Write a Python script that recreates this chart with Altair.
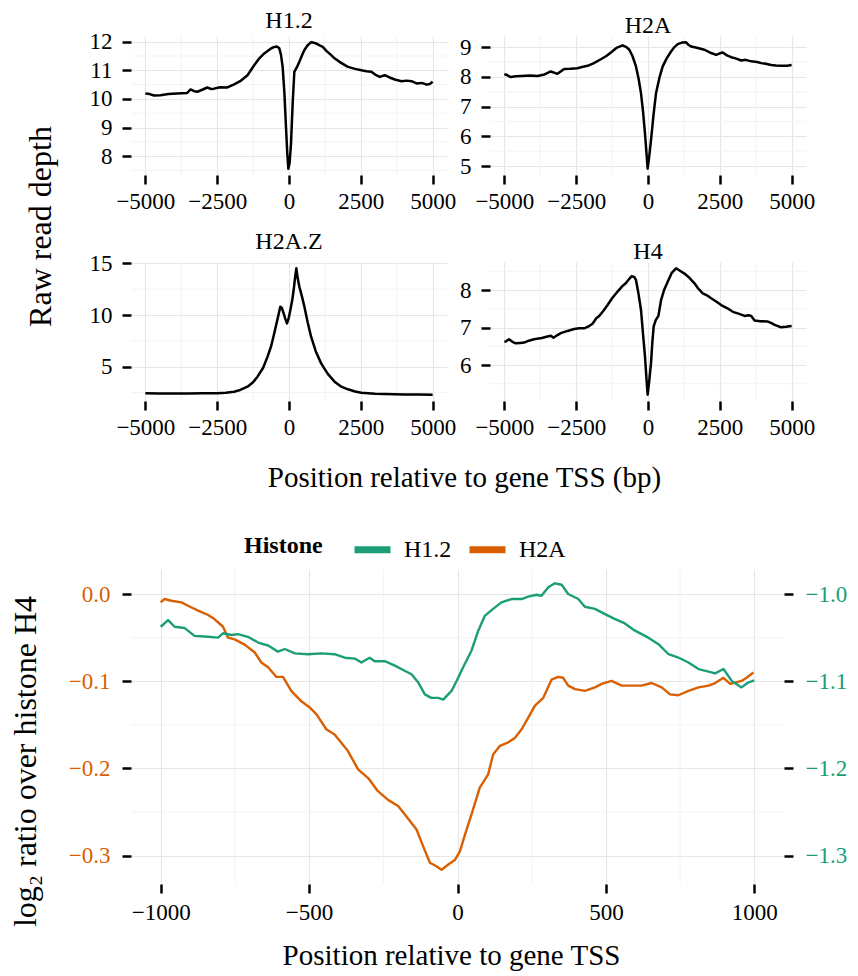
import altair as alt
import pandas as pd

FONT = "Liberation Serif"
GREEN = "#1B9E77"
ORANGE = "#D95F02"
MAJOR_GRID = "#E6E6E6"
MINOR_GRID = "#F3F3F3"

# ---------------- top panels: raw read depth ----------------
panel_names = ["H1.2", "H2A", "H2A.Z", "H4"]

h12_pos = [-5000, -4850, -4700, -4476, -4200, -3900, -3543, -3426, -3300, -3193, -3000, -2844, -2720, -2611,
           -2400, -2145, -1911, -1700, -1445, -1212, -1050, -862, -650, -513, -420, -338, -280, -221, -160,
           -105, -60, -23, 20, 70, 130, 186, 270, 361, 450, 536, 650, 769, 850, 944, 1050, 1177, 1300, 1450,
           1585, 1800, 2051, 2300, 2518, 2700, 2867, 3000, 3159, 3333, 3500, 3683, 3916, 4100, 4266, 4441,
           4616, 4790, 4900, 5000]
h12_val = [10.19, 10.17, 10.12, 10.13, 10.17, 10.19, 10.21, 10.33, 10.27, 10.25, 10.33, 10.40, 10.35, 10.36,
           10.41, 10.40, 10.51, 10.62, 10.83, 11.18, 11.40, 11.59, 11.75, 11.82, 11.83, 11.77, 11.55, 11.12,
           10.20, 9.02, 8.10, 7.56, 7.75, 8.43, 9.90, 10.95, 11.10, 11.30, 11.52, 11.71, 11.88, 11.98, 11.97,
           11.94, 11.88, 11.82, 11.68, 11.55, 11.42, 11.27, 11.12, 11.05, 11.00, 10.97, 10.95, 10.85, 10.77,
           10.83, 10.75, 10.68, 10.62, 10.64, 10.62, 10.54, 10.56, 10.50, 10.52, 10.60]

h2a_pos = [-5000, -4950, -4780, -4600, -4430, -4100, -3850, -3600, -3385, -3150, -2920, -2700, -2455, -2300,
           -2105, -1900, -1640, -1450, -1290, -1100, -884, -750, -651, -540, -419, -330, -244, -170, -105,
           -50, -12, 40, 105, 190, 279, 400, 512, 650, 802, 920, 1035, 1180, 1326, 1400, 1500, 1700, 1965,
           2198, 2373, 2500, 2605, 2750, 2896, 3050, 3245, 3400, 3594, 3800, 3943, 4100, 4292, 4450, 4640,
           4850, 5000]
h2a_val = [8.06, 8.08, 7.99, 8.02, 8.03, 8.04, 8.03, 8.08, 8.18, 8.10, 8.26, 8.27, 8.29, 8.33, 8.37, 8.45,
           8.59, 8.70, 8.82, 8.97, 9.06, 9.00, 8.91, 8.70, 8.35, 7.95, 7.45, 6.80, 6.09, 5.40, 4.91, 5.30,
           5.87, 6.70, 7.45, 7.98, 8.35, 8.62, 8.85, 9.00, 9.10, 9.15, 9.16, 9.08, 9.02, 8.98, 8.91, 8.80,
           8.74, 8.79, 8.82, 8.72, 8.66, 8.62, 8.55, 8.57, 8.52, 8.50, 8.46, 8.44, 8.40, 8.38, 8.37, 8.37, 8.40]

h2az_pos = [-5000, -4500, -4000, -3500, -3000, -2500, -2200, -1911, -1700, -1445, -1250, -1096, -900, -746,
            -620, -513, -400, -303, -250, -186, -120, -70, -10, 47, 110, 163, 210, 256, 300, 361, 450, 536,
            650, 769, 930, 1119, 1350, 1585, 1800, 2051, 2300, 2518, 3000, 3333, 4000, 4500, 5000]
h2az_val = [2.42, 2.40, 2.40, 2.41, 2.42, 2.43, 2.48, 2.58, 2.75, 3.06, 3.50, 4.03, 4.90, 5.97, 7.00, 8.23,
            9.60, 10.81, 10.70, 10.16, 9.55, 9.19, 9.70, 10.48, 11.40, 12.42, 13.60, 14.52, 13.60, 12.74,
            11.80, 10.81, 9.30, 7.90, 6.50, 5.32, 4.30, 3.55, 3.10, 2.81, 2.60, 2.48, 2.38, 2.35, 2.31, 2.30,
            2.29]

h4_pos = [-5000, -4950, -4840, -4720, -4600, -4450, -4310, -4150, -3965, -3700, -3500, -3380, -3290, -3150,
          -3035, -2800, -2570, -2400, -2220, -2050, -1930, -1800, -1700, -1550, -1407, -1250, -1058, -900,
          -767, -650, -570, -480, -419, -330, -244, -170, -105, -50, -12, 40, 105, 150, 198, 270, 361, 454,
          560, 686, 820, 977, 1100, 1268, 1450, 1617, 1760, 1907, 2050, 2198, 2400, 2547, 2750, 2954, 3150,
          3361, 3500, 3594, 3710, 3900, 4175, 4300, 4408, 4550, 4640, 4800, 5000]
h4_val = [6.62, 6.63, 6.69, 6.62, 6.58, 6.59, 6.60, 6.65, 6.69, 6.72, 6.76, 6.78, 6.73, 6.80, 6.85, 6.91,
          6.96, 6.98, 6.98, 7.04, 7.10, 7.25, 7.31, 7.45, 7.60, 7.78, 7.96, 8.10, 8.19, 8.30, 8.37, 8.35,
          8.27, 7.90, 7.47, 6.80, 6.23, 5.60, 5.21, 5.55, 6.05, 6.60, 7.03, 7.20, 7.31, 7.73, 8.00, 8.22,
          8.45, 8.58, 8.52, 8.44, 8.32, 8.18, 8.03, 7.91, 7.86, 7.78, 7.68, 7.60, 7.52, 7.42, 7.37, 7.31,
          7.33, 7.31, 7.19, 7.17, 7.16, 7.12, 7.07, 7.03, 7.01, 7.02, 7.04]

top_x_ticks = [-5000, -2500, 0, 2500, 5000]
top_x_minor = [-3750, -1250, 1250, 3750]
h12_yticks = [8, 9, 10, 11, 12]
h12_yminor = [7.5, 8.5, 9.5, 10.5, 11.5]
h2a_yticks = [5, 6, 7, 8, 9]
h2a_yminor = [5.5, 6.5, 7.5, 8.5]
h2az_yticks = [5, 10, 15]
h2az_yminor = [2.5, 7.5, 12.5]
h4_yticks = [6, 7, 8]
h4_yminor = [5.5, 6.5, 7.5, 8.5]

# ---------------- bottom panel: log2 ratio over H4 ----------------
ratio_h2a_pos = [-1000, -987, -964, -930, -908, -874, -840, -818, -790, -773, -751, -717, -683, -661, -638,
                 -610, -588, -560, -526, -498, -475, -442, -414, -369, -335, -301, -268, -234, -200, -172,
                 -138, -116, -93, -71, -54, -31, -9, 8, 25, 47, 75, 103, 120, 143, 171, 193, 216, 238, 261,
                 289, 317, 339, 356, 373, 396, 429, 463, 486, 519, 553, 587, 620, 654, 688, 716, 744, 778,
                 812, 846, 868, 896, 919, 957, 974, 997]
ratio_h2a_val = [-0.0096, -0.0057, -0.0077, -0.0096, -0.0134, -0.0190, -0.0240, -0.0290, -0.0375, -0.0500,
                 -0.0520, -0.0580, -0.0670, -0.0785, -0.0840, -0.0950, -0.0950, -0.1110, -0.1230, -0.1300,
                 -0.1380, -0.1550, -0.1610, -0.1800, -0.2010, -0.2110, -0.2260, -0.2360, -0.2430, -0.2550,
                 -0.2700, -0.2890, -0.3080, -0.3120, -0.3160, -0.3100, -0.3050, -0.2950, -0.2760, -0.2530,
                 -0.2220, -0.2070, -0.1840, -0.1740, -0.1700, -0.1650, -0.1550, -0.1420, -0.1280, -0.1190,
                 -0.0980, -0.0950, -0.0960, -0.1050, -0.1090, -0.1110, -0.1070, -0.1030, -0.0996, -0.1050,
                 -0.1050, -0.1050, -0.1020, -0.1070, -0.1150, -0.1160, -0.1110, -0.1070, -0.1050, -0.1020,
                 -0.0960, -0.1030, -0.0996, -0.0960, -0.0900]

ratio_h12_pos = [-1000, -975, -953, -919, -886, -840, -807, -790, -762, -740, -706, -672, -638, -605, -582,
                 -548, -503, -459, -414, -380, -346, -324, -296, -279, -245, -211, -178, -155, -132, -110,
                 -88, -65, -48, -37, -20, -3, 19, 47, 70, 92, 120, 148, 182, 216, 238, 266, 283, 306, 328,
                 351, 373, 407, 429, 463, 497, 531, 564, 598, 643, 677, 711, 744, 778, 812, 846, 868, 896,
                 924, 957, 979, 1000]
ratio_h12_val = [-1.0375, -1.0300, -1.0375, -1.0390, -1.0480, -1.0490, -1.0500, -1.0450, -1.0470, -1.0460,
                 -1.0490, -1.0556, -1.0590, -1.0660, -1.0630, -1.0680, -1.0690, -1.0680, -1.0690, -1.0730,
                 -1.0740, -1.0785, -1.0730, -1.0770, -1.0770, -1.0820, -1.0880, -1.0920, -1.1015, -1.1150,
                 -1.1190, -1.1190, -1.1210, -1.1170, -1.1110, -1.0996, -1.0840, -1.0650, -1.0420, -1.0250,
                 -1.0170, -1.0096, -1.0057, -1.0057, -1.0030, -1.0008, -1.0020, -0.9923, -0.9877, -0.9893,
                 -1.0000, -1.0057, -1.0146, -1.0170, -1.0230, -1.0287, -1.0337, -1.0420, -1.0500, -1.0575,
                 -1.0690, -1.0728, -1.0785, -1.0860, -1.0890, -1.0910, -1.0860, -1.0996, -1.1070, -1.1015,
                 -1.0990]

sec_axis_offset = 1.0  # right axis = left axis - 1
bot_x_ticks = [-1000, -500, 0, 500, 1000]
bot_x_minor = [-750, -250, 250, 750]
left_ticks = [0.0, -0.1, -0.2, -0.3]
right_ticks = [-1.0, -1.1, -1.2, -1.3]
left_minor = [-0.05, -0.15, -0.25]

TICK = dict(tickColor="black", tickWidth=2.5, tickSize=9, domain=False,
            labelFont=FONT, labelFontSize=23, labelColor="black")


def expand(vals, frac=0.05):
    lo, hi = min(vals), max(vals)
    p = (hi - lo) * frac
    return [lo - p, hi + p]


def panel(name, pos, val, yticks, yminor, ytitle=None, xtitle=None):
    df = pd.DataFrame({"pos": pos, "val": val})
    xs = alt.Scale(domain=[-5500, 5500], nice=False, zero=False)
    ys = alt.Scale(domain=expand(val), nice=False, zero=False)
    xkw = dict(values=top_x_ticks, format="d", grid=True, gridColor=MAJOR_GRID, gridWidth=1.2,
               labelPadding=6, **TICK)
    if xtitle:
        xax = alt.Axis(title=xtitle, titleX=333, titleY=85, titleBaseline="alphabetic",
                       titleFontSize=29, titleFont=FONT, titleFontWeight="normal", titleColor="black", **xkw)
    else:
        xax = alt.Axis(title=None, **xkw)
    ykw = dict(values=yticks, grid=True, gridColor=MAJOR_GRID, gridWidth=1.2, labelPadding=10, **TICK)
    if ytitle:
        yax = alt.Axis(title=ytitle, titleX=-81, titleY=190, titleBaseline="alphabetic", titleAlign="center",
                       titleFontSize=32, titleFont=FONT, titleFontWeight="normal", titleColor="black", **ykw)
    else:
        yax = alt.Axis(title=None, **ykw)
    vmin = alt.Chart(pd.DataFrame({"pos": top_x_minor})).mark_rule(
        color=MINOR_GRID, strokeWidth=1).encode(x=alt.X("pos:Q", scale=xs, axis=xax))
    hmin = alt.Chart(pd.DataFrame({"val": yminor})).mark_rule(
        color=MINOR_GRID, strokeWidth=1).encode(y=alt.Y("val:Q", scale=ys, axis=yax))
    line = alt.Chart(df).mark_line(color="black", strokeWidth=2.5, strokeJoin="round").encode(
        x=alt.X("pos:Q", scale=xs, axis=xax),
        y=alt.Y("val:Q", scale=ys, axis=yax),
        order="pos:Q",
    )
    return alt.layer(vmin, hmin, line).properties(
        width=316, height=139,
        title=alt.TitleParams(name, font=FONT, fontSize=24, fontWeight="normal", color="black",
                              anchor="middle", offset=-2),
    )


p1 = panel("H1.2", h12_pos, h12_val, h12_yticks, h12_yminor, ytitle="Raw read depth")
p2 = panel("H2A", h2a_pos, h2a_val, h2a_yticks, h2a_yminor)
p3 = panel("H2A.Z", h2az_pos, h2az_val, h2az_yticks, h2az_yminor,
           xtitle="Position relative to gene TSS (bp)")
p4 = panel("H4", h4_pos, h4_val, h4_yticks, h4_yminor)

top = alt.concat(p1, p2, p3, p4, columns=2, spacing={"row": 87, "column": 43},
                 bounds="flush").resolve_scale(x="independent", y="independent")

# bottom chart
df_h2a = pd.DataFrame({"pos": ratio_h2a_pos, "val": ratio_h2a_val, "Histone": "H2A"})
df_h12 = pd.DataFrame({"pos": ratio_h12_pos, "val": ratio_h12_val, "Histone": "H1.2"})

left_dom = expand(ratio_h2a_val + [v + sec_axis_offset for v in ratio_h12_val])
right_dom = [d - sec_axis_offset for d in left_dom]

bxs = alt.Scale(domain=[-1100, 1100], nice=False, zero=False)
bx_axis = alt.Axis(values=bot_x_ticks, format="d", grid=True, gridColor=MAJOR_GRID, gridWidth=1.2,
                   labelPadding=8, title="Position relative to gene TSS", titleX=320, titleY=80,
                   titleBaseline="alphabetic", titleFontSize=29, titleFont=FONT, titleFontWeight="normal",
                   titleColor="black", **TICK)
left_axis = alt.Axis(orient="left", values=left_ticks, format=".1f", grid=True, gridColor=MAJOR_GRID,
                     gridWidth=1.2, labelPadding=12, title="log₂ ratio over histone H4", titleX=-96,
                     titleY=192, titleBaseline="alphabetic", titleAlign="center", titleFontSize=32,
                     titleFont=FONT, titleFontWeight="normal", titleColor="black",
                     **{**TICK, "labelColor": ORANGE})
right_axis = alt.Axis(orient="right", values=right_ticks, format=".1f", grid=False, labelPadding=12,
                      title=None, **{**TICK, "labelColor": GREEN})

color = alt.Color("Histone:N", scale=alt.Scale(domain=["H1.2", "H2A"], range=[GREEN, ORANGE]),
                  legend=alt.Legend(orient="none", legendX=113, legendY=-41, direction="horizontal",
                                    title="Histone", titleOrient="left", titleFont=FONT, titleFontSize=24,
                                    titleFontWeight="bold", titleColor="black", titlePadding=28,
                                    labelFont=FONT, labelFontSize=24, labelColor="black",
                                    symbolType="stroke", symbolStrokeWidth=7, symbolSize=1296,
                                    labelOffset=10, columnPadding=3))

lys = alt.Scale(domain=left_dom, nice=False, zero=False)
rys = alt.Scale(domain=right_dom, nice=False, zero=False)

bvmin = alt.Chart(pd.DataFrame({"pos": bot_x_minor})).mark_rule(color=MINOR_GRID, strokeWidth=1).encode(
    x=alt.X("pos:Q", scale=bxs, axis=bx_axis))
bhmin = alt.Chart(pd.DataFrame({"val": left_minor})).mark_rule(color=MINOR_GRID, strokeWidth=1).encode(
    y=alt.Y("val:Q", scale=lys, axis=left_axis))
orange_line = alt.Chart(df_h2a).mark_line(strokeWidth=2.4, strokeJoin="round").encode(
    x=alt.X("pos:Q", scale=bxs, axis=bx_axis),
    y=alt.Y("val:Q", scale=lys, axis=left_axis),
    color=color, order="pos:Q")
green_line = alt.Chart(df_h12).mark_line(strokeWidth=2.4, strokeJoin="round").encode(
    x=alt.X("pos:Q", scale=bxs, axis=bx_axis),
    y=alt.Y("val:Q", scale=rys, axis=right_axis),
    color=color, order="pos:Q")

left_layer = alt.layer(bvmin, bhmin, orange_line)
bottom = alt.layer(left_layer, green_line).resolve_scale(y="independent").properties(width=653, height=315)

chart = alt.vconcat(top, bottom, spacing=36).resolve_scale(
    x="independent", y="independent", color="independent").properties(
    padding={"left": 0, "top": 0, "right": 2, "bottom": 2}
).configure(font=FONT).configure_view(stroke=None).configure_axis(
    labelFont=FONT, titleFont=FONT).configure_legend(labelFont=FONT, titleFont=FONT).configure_title(font=FONT)

chart.save("out.html", embed_options={"renderer": "svg", "actions": False})
